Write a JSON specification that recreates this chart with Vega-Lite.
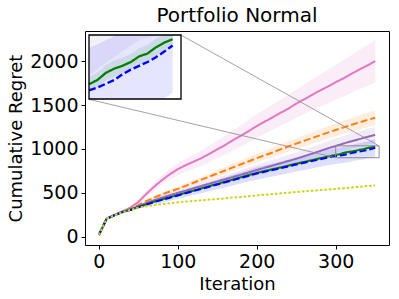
{
"$schema": "https://vega.github.io/schema/vega-lite/v6.json",
"width": 304, "height": 214,
"autosize": {"type": "none"},
"padding": {"left": 85, "top": 31, "right": 10, "bottom": 54},
"background": "white",
"title": {"text": "Portfolio Normal", "fontSize": 20, "font": "DejaVu Sans", "fontWeight": "normal", "color": "black", "offset": 5},
"config": {
  "font": "DejaVu Sans",
  "view": {"stroke": "black", "strokeWidth": 1},
  "axis": {"domain": false, "grid": false, "ticks": true, "tickColor": "black", "tickSize": 4, "labelColor": "black", "labelFontSize": 19, "titleFontSize": 18, "titleFontWeight": "normal", "titleColor": "black", "labelFont": "DejaVu Sans", "titleFont": "DejaVu Sans", "labelPadding": 3, "titlePadding": 4, "format": "d"}
},
"datasets": {
"box": [{"x1": 300, "x2": 355, "y1": 900, "y2": 1035}],
"conn": [{"cx": 104, "cy": 2297, "g": 1}, {"cx": 355, "cy": 1035, "g": 1}, {"cx": -12.4, "cy": 1565, "g": 2}, {"cx": 300, "cy": 900, "g": 2}],
"d": [
{"it":0,"s":"pink","m":20,"lo":19,"hi":21},
{"it":10,"s":"pink","m":205,"lo":201,"hi":209},
{"it":20,"s":"pink","m":250,"lo":245,"hi":255},
{"it":30,"s":"pink","m":290,"lo":282,"hi":298},
{"it":40,"s":"pink","m":332,"lo":318,"hi":346},
{"it":50,"s":"pink","m":395,"lo":370,"hi":420},
{"it":60,"s":"pink","m":485,"lo":450,"hi":520},
{"it":70,"s":"pink","m":570,"lo":525,"hi":615},
{"it":80,"s":"pink","m":645,"lo":590,"hi":700},
{"it":90,"s":"pink","m":712,"lo":650,"hi":774},
{"it":100,"s":"pink","m":770,"lo":700,"hi":840},
{"it":110,"s":"pink","m":815,"lo":739,"hi":891},
{"it":120,"s":"pink","m":855,"lo":773,"hi":937},
{"it":130,"s":"pink","m":895,"lo":807,"hi":983},
{"it":140,"s":"pink","m":945,"lo":851,"hi":1039},
{"it":150,"s":"pink","m":995,"lo":895,"hi":1095},
{"it":160,"s":"pink","m":1045,"lo":938,"hi":1152},
{"it":170,"s":"pink","m":1100,"lo":986,"hi":1214},
{"it":180,"s":"pink","m":1150,"lo":1029,"hi":1271},
{"it":190,"s":"pink","m":1205,"lo":1077,"hi":1333},
{"it":200,"s":"pink","m":1260,"lo":1125,"hi":1395},
{"it":210,"s":"pink","m":1310,"lo":1170,"hi":1450},
{"it":220,"s":"pink","m":1360,"lo":1215,"hi":1505},
{"it":230,"s":"pink","m":1410,"lo":1260,"hi":1560},
{"it":240,"s":"pink","m":1460,"lo":1305,"hi":1615},
{"it":250,"s":"pink","m":1515,"lo":1355,"hi":1675},
{"it":260,"s":"pink","m":1565,"lo":1397,"hi":1733},
{"it":270,"s":"pink","m":1615,"lo":1439,"hi":1791},
{"it":280,"s":"pink","m":1665,"lo":1481,"hi":1849},
{"it":290,"s":"pink","m":1710,"lo":1518,"hi":1902},
{"it":300,"s":"pink","m":1760,"lo":1560,"hi":1960},
{"it":310,"s":"pink","m":1805,"lo":1597,"hi":2013},
{"it":320,"s":"pink","m":1855,"lo":1639,"hi":2071},
{"it":330,"s":"pink","m":1905,"lo":1681,"hi":2129},
{"it":340,"s":"pink","m":1950,"lo":1718,"hi":2182},
{"it":350,"s":"pink","m":2000,"lo":1760,"hi":2240},
{"it":0,"s":"orange","m":20,"lo":19,"hi":21},
{"it":10,"s":"orange","m":205,"lo":201,"hi":209},
{"it":20,"s":"orange","m":247,"lo":242,"hi":252},
{"it":30,"s":"orange","m":283,"lo":276,"hi":290},
{"it":40,"s":"orange","m":318,"lo":308,"hi":328},
{"it":50,"s":"orange","m":360,"lo":347,"hi":373},
{"it":60,"s":"orange","m":405,"lo":389,"hi":421},
{"it":70,"s":"orange","m":445,"lo":426,"hi":464},
{"it":80,"s":"orange","m":482,"lo":461,"hi":503},
{"it":90,"s":"orange","m":515,"lo":492,"hi":538},
{"it":100,"s":"orange","m":545,"lo":520,"hi":570},
{"it":110,"s":"orange","m":580,"lo":552,"hi":608},
{"it":120,"s":"orange","m":615,"lo":585,"hi":645},
{"it":130,"s":"orange","m":650,"lo":617,"hi":683},
{"it":140,"s":"orange","m":685,"lo":650,"hi":720},
{"it":150,"s":"orange","m":720,"lo":682,"hi":758},
{"it":160,"s":"orange","m":755,"lo":715,"hi":795},
{"it":170,"s":"orange","m":790,"lo":747,"hi":833},
{"it":180,"s":"orange","m":825,"lo":780,"hi":870},
{"it":190,"s":"orange","m":860,"lo":812,"hi":908},
{"it":200,"s":"orange","m":895,"lo":845,"hi":945},
{"it":210,"s":"orange","m":928,"lo":876,"hi":980},
{"it":220,"s":"orange","m":960,"lo":905,"hi":1015},
{"it":230,"s":"orange","m":995,"lo":938,"hi":1052},
{"it":240,"s":"orange","m":1028,"lo":969,"hi":1087},
{"it":250,"s":"orange","m":1060,"lo":998,"hi":1122},
{"it":260,"s":"orange","m":1092,"lo":1028,"hi":1156},
{"it":270,"s":"orange","m":1124,"lo":1058,"hi":1190},
{"it":280,"s":"orange","m":1155,"lo":1086,"hi":1224},
{"it":290,"s":"orange","m":1186,"lo":1115,"hi":1257},
{"it":300,"s":"orange","m":1216,"lo":1143,"hi":1289},
{"it":310,"s":"orange","m":1246,"lo":1170,"hi":1322},
{"it":320,"s":"orange","m":1275,"lo":1197,"hi":1353},
{"it":330,"s":"orange","m":1302,"lo":1222,"hi":1382},
{"it":340,"s":"orange","m":1330,"lo":1247,"hi":1413},
{"it":350,"s":"orange","m":1355,"lo":1270,"hi":1440},
{"it":0,"s":"purple","m":20,"lo":19,"hi":21},
{"it":10,"s":"purple","m":205,"lo":201,"hi":209},
{"it":20,"s":"purple","m":246,"lo":241,"hi":251},
{"it":30,"s":"purple","m":281,"lo":274,"hi":288},
{"it":40,"s":"purple","m":312,"lo":302,"hi":322},
{"it":50,"s":"purple","m":347,"lo":333,"hi":361},
{"it":60,"s":"purple","m":382,"lo":364,"hi":400},
{"it":70,"s":"purple","m":415,"lo":393,"hi":437},
{"it":80,"s":"purple","m":445,"lo":419,"hi":471},
{"it":90,"s":"purple","m":473,"lo":445,"hi":501},
{"it":100,"s":"purple","m":500,"lo":470,"hi":530},
{"it":110,"s":"purple","m":525,"lo":492,"hi":558},
{"it":120,"s":"purple","m":552,"lo":516,"hi":588},
{"it":130,"s":"purple","m":578,"lo":539,"hi":617},
{"it":140,"s":"purple","m":604,"lo":562,"hi":646},
{"it":150,"s":"purple","m":630,"lo":585,"hi":675},
{"it":160,"s":"purple","m":655,"lo":607,"hi":703},
{"it":170,"s":"purple","m":680,"lo":629,"hi":731},
{"it":180,"s":"purple","m":706,"lo":652,"hi":760},
{"it":190,"s":"purple","m":732,"lo":675,"hi":789},
{"it":200,"s":"purple","m":760,"lo":700,"hi":820},
{"it":210,"s":"purple","m":785,"lo":723,"hi":847},
{"it":220,"s":"purple","m":810,"lo":746,"hi":874},
{"it":230,"s":"purple","m":836,"lo":770,"hi":902},
{"it":240,"s":"purple","m":862,"lo":794,"hi":930},
{"it":250,"s":"purple","m":888,"lo":818,"hi":958},
{"it":260,"s":"purple","m":917,"lo":844,"hi":990},
{"it":270,"s":"purple","m":946,"lo":870,"hi":1022},
{"it":280,"s":"purple","m":976,"lo":897,"hi":1055},
{"it":290,"s":"purple","m":1006,"lo":924,"hi":1088},
{"it":300,"s":"purple","m":1033,"lo":950,"hi":1120},
{"it":310,"s":"purple","m":1062,"lo":976,"hi":1148},
{"it":320,"s":"purple","m":1088,"lo":1001,"hi":1175},
{"it":330,"s":"purple","m":1112,"lo":1024,"hi":1200},
{"it":340,"s":"purple","m":1137,"lo":1048,"hi":1226},
{"it":350,"s":"purple","m":1160,"lo":1070,"hi":1250},
{"it":0,"s":"green","m":20,"lo":19,"hi":21},
{"it":10,"s":"green","m":205,"lo":202,"hi":208},
{"it":20,"s":"green","m":246,"lo":242,"hi":250},
{"it":30,"s":"green","m":281,"lo":277,"hi":285},
{"it":40,"s":"green","m":308,"lo":303,"hi":313},
{"it":50,"s":"green","m":338,"lo":333,"hi":343},
{"it":60,"s":"green","m":369,"lo":363,"hi":375},
{"it":70,"s":"green","m":399,"lo":393,"hi":405},
{"it":80,"s":"green","m":425,"lo":418,"hi":432},
{"it":90,"s":"green","m":450,"lo":443,"hi":457},
{"it":100,"s":"green","m":475,"lo":467,"hi":483},
{"it":110,"s":"green","m":501,"lo":493,"hi":509},
{"it":120,"s":"green","m":526,"lo":517,"hi":535},
{"it":130,"s":"green","m":551,"lo":542,"hi":560},
{"it":140,"s":"green","m":576,"lo":566,"hi":586},
{"it":150,"s":"green","m":602,"lo":592,"hi":612},
{"it":160,"s":"green","m":627,"lo":617,"hi":637},
{"it":170,"s":"green","m":652,"lo":641,"hi":663},
{"it":180,"s":"green","m":678,"lo":667,"hi":689},
{"it":190,"s":"green","m":703,"lo":692,"hi":714},
{"it":200,"s":"green","m":728,"lo":716,"hi":740},
{"it":210,"s":"green","m":749,"lo":737,"hi":761},
{"it":220,"s":"green","m":769,"lo":756,"hi":782},
{"it":230,"s":"green","m":789,"lo":776,"hi":802},
{"it":240,"s":"green","m":809,"lo":795,"hi":823},
{"it":250,"s":"green","m":832,"lo":818,"hi":846},
{"it":260,"s":"green","m":852,"lo":837,"hi":867},
{"it":270,"s":"green","m":872,"lo":857,"hi":887},
{"it":280,"s":"green","m":893,"lo":878,"hi":908},
{"it":290,"s":"green","m":913,"lo":897,"hi":929},
{"it":300,"s":"green","m":931,"lo":915,"hi":947},
{"it":305,"s":"green","m":940,"lo":924,"hi":956},
{"it":310,"s":"green","m":955,"lo":939,"hi":971},
{"it":315,"s":"green","m":964,"lo":947,"hi":981},
{"it":320,"s":"green","m":970,"lo":953,"hi":987},
{"it":325,"s":"green","m":978,"lo":961,"hi":995},
{"it":330,"s":"green","m":990,"lo":973,"hi":1007},
{"it":335,"s":"green","m":996,"lo":978,"hi":1014},
{"it":340,"s":"green","m":1009,"lo":991,"hi":1027},
{"it":345,"s":"green","m":1019,"lo":1001,"hi":1037},
{"it":350,"s":"green","m":1026,"lo":1008,"hi":1044},
{"it":0,"s":"blue","m":20,"lo":19,"hi":21},
{"it":10,"s":"blue","m":205,"lo":201,"hi":209},
{"it":20,"s":"blue","m":245,"lo":240,"hi":250},
{"it":30,"s":"blue","m":280,"lo":272,"hi":288},
{"it":40,"s":"blue","m":305,"lo":293,"hi":317},
{"it":50,"s":"blue","m":335,"lo":318,"hi":352},
{"it":60,"s":"blue","m":365,"lo":343,"hi":387},
{"it":70,"s":"blue","m":395,"lo":368,"hi":422},
{"it":80,"s":"blue","m":420,"lo":388,"hi":452},
{"it":90,"s":"blue","m":445,"lo":409,"hi":481},
{"it":100,"s":"blue","m":470,"lo":430,"hi":510},
{"it":110,"s":"blue","m":495,"lo":452,"hi":538},
{"it":120,"s":"blue","m":520,"lo":474,"hi":566},
{"it":130,"s":"blue","m":545,"lo":496,"hi":594},
{"it":140,"s":"blue","m":570,"lo":518,"hi":622},
{"it":150,"s":"blue","m":595,"lo":540,"hi":650},
{"it":160,"s":"blue","m":620,"lo":562,"hi":678},
{"it":170,"s":"blue","m":645,"lo":584,"hi":706},
{"it":180,"s":"blue","m":670,"lo":606,"hi":734},
{"it":190,"s":"blue","m":695,"lo":628,"hi":762},
{"it":200,"s":"blue","m":720,"lo":650,"hi":790},
{"it":210,"s":"blue","m":740,"lo":668,"hi":812},
{"it":220,"s":"blue","m":760,"lo":686,"hi":834},
{"it":230,"s":"blue","m":780,"lo":704,"hi":856},
{"it":240,"s":"blue","m":800,"lo":722,"hi":878},
{"it":250,"s":"blue","m":822,"lo":742,"hi":902},
{"it":260,"s":"blue","m":842,"lo":760,"hi":924},
{"it":270,"s":"blue","m":862,"lo":778,"hi":946},
{"it":280,"s":"blue","m":882,"lo":796,"hi":968},
{"it":290,"s":"blue","m":902,"lo":814,"hi":990},
{"it":300,"s":"blue","m":918,"lo":828,"hi":1008},
{"it":305,"s":"blue","m":924,"lo":833,"hi":1015},
{"it":310,"s":"blue","m":932,"lo":840,"hi":1024},
{"it":315,"s":"blue","m":940,"lo":847,"hi":1033},
{"it":320,"s":"blue","m":952,"lo":858,"hi":1046},
{"it":325,"s":"blue","m":962,"lo":867,"hi":1057},
{"it":330,"s":"blue","m":970,"lo":874,"hi":1066},
{"it":335,"s":"blue","m":978,"lo":881,"hi":1075},
{"it":340,"s":"blue","m":988,"lo":890,"hi":1086},
{"it":345,"s":"blue","m":1000,"lo":901,"hi":1099},
{"it":350,"s":"blue","m":1013,"lo":913,"hi":1113},
{"it":0,"s":"yellow","m":20,"lo":19,"hi":21},
{"it":10,"s":"yellow","m":205,"lo":202,"hi":208},
{"it":20,"s":"yellow","m":245,"lo":241,"hi":249},
{"it":30,"s":"yellow","m":278,"lo":274,"hi":282},
{"it":40,"s":"yellow","m":305,"lo":300,"hi":310},
{"it":50,"s":"yellow","m":330,"lo":325,"hi":335},
{"it":60,"s":"yellow","m":347,"lo":342,"hi":352},
{"it":70,"s":"yellow","m":360,"lo":355,"hi":365},
{"it":80,"s":"yellow","m":372,"lo":366,"hi":378},
{"it":90,"s":"yellow","m":382,"lo":376,"hi":388},
{"it":100,"s":"yellow","m":392,"lo":386,"hi":398},
{"it":110,"s":"yellow","m":400,"lo":394,"hi":406},
{"it":120,"s":"yellow","m":408,"lo":401,"hi":415},
{"it":130,"s":"yellow","m":415,"lo":408,"hi":422},
{"it":140,"s":"yellow","m":423,"lo":416,"hi":430},
{"it":150,"s":"yellow","m":430,"lo":423,"hi":437},
{"it":160,"s":"yellow","m":438,"lo":431,"hi":445},
{"it":170,"s":"yellow","m":446,"lo":438,"hi":454},
{"it":180,"s":"yellow","m":454,"lo":446,"hi":462},
{"it":190,"s":"yellow","m":462,"lo":454,"hi":470},
{"it":200,"s":"yellow","m":470,"lo":462,"hi":478},
{"it":210,"s":"yellow","m":478,"lo":470,"hi":486},
{"it":220,"s":"yellow","m":486,"lo":478,"hi":494},
{"it":230,"s":"yellow","m":494,"lo":485,"hi":503},
{"it":240,"s":"yellow","m":502,"lo":493,"hi":511},
{"it":250,"s":"yellow","m":510,"lo":501,"hi":519},
{"it":260,"s":"yellow","m":517,"lo":508,"hi":526},
{"it":270,"s":"yellow","m":524,"lo":515,"hi":533},
{"it":280,"s":"yellow","m":531,"lo":522,"hi":540},
{"it":290,"s":"yellow","m":538,"lo":528,"hi":548},
{"it":300,"s":"yellow","m":545,"lo":535,"hi":555},
{"it":310,"s":"yellow","m":553,"lo":543,"hi":563},
{"it":320,"s":"yellow","m":561,"lo":551,"hi":571},
{"it":330,"s":"yellow","m":569,"lo":559,"hi":579},
{"it":340,"s":"yellow","m":577,"lo":567,"hi":587},
{"it":350,"s":"yellow","m":585,"lo":575,"hi":595}
]},
"layer": [
 {
  "layer": [
   {"data": {"name": "d"}, "mark": {"type": "area", "opacity": 0.13},
    "encoding": {
     "x": {"field": "it", "type": "quantitative", "scale": {"domain": [-17.5, 367.5], "nice": false, "zero": false}, "axis": {"values": [0, 100, 200, 300], "title": "Iteration"}},
     "y": {"field": "lo", "type": "quantitative", "stack": null, "scale": {"domain": [-94, 2343], "nice": false, "zero": false}, "axis": {"values": [0, 500, 1000, 1500, 2000], "title": "Cumulative Regret"}},
     "y2": {"field": "hi"},
     "color": {"field": "s", "type": "nominal", "scale": {"domain": ["pink", "orange", "purple", "green", "blue", "yellow"], "range": ["#e377c2", "#ff7f0e", "#9467bd", "#008000", "#0000ff", "#d2d21e"]}, "legend": null}
    }},
   {"data": {"name": "d"}, "mark": {"type": "line", "strokeWidth": 2},
    "encoding": {
     "x": {"field": "it", "type": "quantitative", "axis": {"values": [0, 100, 200, 300], "title": "Iteration"}},
     "y": {"field": "m", "type": "quantitative", "axis": {"values": [0, 500, 1000, 1500, 2000], "title": "Cumulative Regret"}},
     "color": {"field": "s", "type": "nominal", "legend": null},
     "strokeDash": {"field": "s", "type": "nominal", "scale": {"domain": ["pink", "orange", "purple", "green", "blue", "yellow"], "range": [[1, 0], [7, 3], [1, 0], [1, 0], [7, 3], [2.5, 2]]}, "legend": null},
     "strokeWidth": {"field": "s", "type": "nominal", "scale": {"domain": ["pink", "orange", "purple", "green", "blue", "yellow"], "range": [2, 2.5, 2, 2, 2.5, 3]}, "legend": null}
    }},
   {"data": {"name": "box"}, "mark": {"type": "rect", "fillOpacity": 0, "stroke": "#8c8c8c", "strokeWidth": 1},
    "encoding": {
     "x": {"field": "x1", "type": "quantitative", "axis": {"values": [0, 100, 200, 300], "title": "Iteration"}},
     "x2": {"field": "x2"},
     "y": {"field": "y1", "type": "quantitative", "axis": {"values": [0, 500, 1000, 1500, 2000], "title": "Cumulative Regret"}},
     "y2": {"field": "y2"}
    }},
   {"data": {"name": "conn"}, "mark": {"type": "line", "color": "#8c8c8c", "strokeWidth": 0.8},
    "encoding": {
     "x": {"field": "cx", "type": "quantitative", "axis": {"values": [0, 100, 200, 300], "title": "Iteration"}},
     "y": {"field": "cy", "type": "quantitative", "axis": {"values": [0, 500, 1000, 1500, 2000], "title": "Cumulative Regret"}},
     "detail": {"field": "g", "type": "nominal"}
    }}
  ]
 },
 {
  "layer": [
   {"data": {"name": "box"}, "mark": {"type": "rect", "fill": "white"},
    "encoding": {
     "x": {"field": "x1", "type": "quantitative", "scale": {"domain": [300, 355], "range": [4, 96], "clamp": true, "nice": false, "zero": false}, "axis": null},
     "x2": {"field": "x2"},
     "y": {"field": "y1", "type": "quantitative", "scale": {"domain": [900, 1035], "range": [68, 4], "clamp": true, "nice": false, "zero": false}, "axis": null},
     "y2": {"field": "y2"}
    }},
   {"data": {"name": "d"}, "transform": [{"filter": "datum.it >= 300 && (datum.s == 'purple' || datum.s == 'blue' || datum.s == 'green')"}],
    "mark": {"type": "area", "opacity": 0.1},
    "encoding": {
     "x": {"field": "it", "type": "quantitative", "axis": null},
     "y": {"field": "lo", "type": "quantitative", "stack": null, "axis": null},
     "y2": {"field": "hi"},
     "color": {"field": "s", "type": "nominal", "legend": null}
    }},
   {"data": {"name": "d"}, "transform": [{"filter": "datum.it >= 300 && (datum.s == 'blue' || datum.s == 'green')"}],
    "mark": {"type": "line"},
    "encoding": {
     "x": {"field": "it", "type": "quantitative", "axis": null},
     "y": {"field": "m", "type": "quantitative", "axis": null},
     "color": {"field": "s", "type": "nominal", "legend": null},
     "strokeDash": {"field": "s", "type": "nominal", "legend": null},
     "strokeWidth": {"field": "s", "type": "nominal", "legend": null}
    }},
   {"data": {"name": "box"}, "mark": {"type": "rect", "fillOpacity": 0, "stroke": "black", "strokeWidth": 1.3},
    "encoding": {
     "x": {"field": "x1", "type": "quantitative", "axis": null},
     "x2": {"field": "x2"},
     "y": {"field": "y1", "type": "quantitative", "axis": null},
     "y2": {"field": "y2"}
    }}
  ]
 }
],
"resolve": {"scale": {"x": "independent", "y": "independent"}}
}
